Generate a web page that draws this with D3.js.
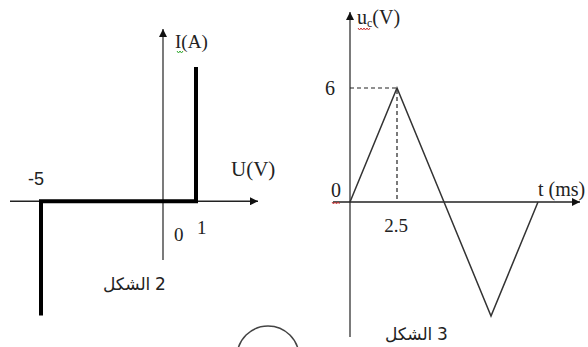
<!DOCTYPE html>
<html>
<head>
<meta charset="utf-8">
<script src="https://cdn.jsdelivr.net/npm/d3@7"></script>
<style>
  body { margin: 0; background: #fff; }
  svg { display: block; }
  .serif { font-family: "Liberation Serif", "DejaVu Serif", serif; fill: #222; }
  .sans { font-family: "Liberation Sans", "DejaVu Sans", sans-serif; fill: #222; }
  .ar { font-family: "DejaVu Sans", sans-serif; fill: #222; }
</style>
</head>
<body>
<svg id="chart" width="588" height="347"></svg>
<script>
// figure 2 : I(U) characteristic (schematic, not to scale)
var uValues = [-5, -5, 1, 1];
var iValues = [-4, 0, 0, 4.7];
var uTicks = [-5, 0, 1];

// figure 3 : u(t) triangle signal
var tValues = [0, 2.5, 5, 7.5, 10];
var vValues = [0, 6, 0, -6, 0];
var tTicks = [2.5];
var vTicks = [0, 6];

var svg = d3.select("#chart");

svg.append("defs").append("marker")
  .attr("id", "arrow")
  .attr("viewBox", "0 0 10 10")
  .attr("refX", 10).attr("refY", 5)
  .attr("markerUnits", "userSpaceOnUse")
  .attr("markerWidth", 10).attr("markerHeight", 8)
  .attr("orient", "auto")
  .append("path")
  .attr("d", "M0,0L10,5L0,10Z")
  .attr("fill", "#111");

// little spell-check squiggle under a label
function squiggle(g, x, y, n, color) {
  var d = "M" + x + "," + y;
  for (var k = 0; k < n; k++) d += "l1.5," + (k % 2 ? -2 : 2);
  g.append("path").attr("d", d)
    .attr("fill", "none").attr("stroke", color).attr("stroke-width", 1);
}

// arabic word on the left, figure number on the right
function caption(g, x, y, num) {
  var t = g.append("text").attr("class", "ar")
    .attr("y", y)
    .attr("text-anchor", "middle")
    .style("font-size", "17px")
    .text("الشكل");
  var w = t.node().getComputedTextLength();
  t.attr("x", x + w / 2);
  g.append("text").attr("class", "ar")
    .attr("x", x + w + 10).attr("y", y)
    .attr("text-anchor", "middle")
    .style("font-size", "17px")
    .text(num);
}

//--- left chart
var uScale = d3.scaleLinear().domain([-5, 0, 1]).range([41, 163, 196]);
var iScale = d3.scaleLinear().domain([-4, 4.7]).range([315.5, 67]);

var left = svg.append("g");

left.append("line")
  .attr("x1", 10).attr("x2", 258)
  .attr("y1", iScale(0)).attr("y2", iScale(0))
  .attr("stroke", "#222").attr("stroke-width", 1.3)
  .attr("marker-end", "url(#arrow)");

left.append("line")
  .attr("x1", uScale(0)).attr("x2", uScale(0))
  .attr("y1", 260).attr("y2", 29)
  .attr("stroke", "#222").attr("stroke-width", 1.2)
  .attr("marker-end", "url(#arrow)");

var lineUI = d3.line()
  .x(function(d, i) { return uScale(uValues[i]); })
  .y(function(d, i) { return iScale(iValues[i]); });

left.append("path")
  .attr("d", lineUI(uValues))
  .attr("fill", "none")
  .attr("stroke", "#000")
  .attr("stroke-width", 4)
  .attr("stroke-linejoin", "miter");

left.append("text").attr("class", "sans")
  .attr("x", uScale(-5) - 13).attr("y", 185)
  .style("font-size", "18px")
  .text(uTicks[0]);

left.append("text").attr("class", "serif")
  .attr("x", uScale(0) + 11).attr("y", 241)
  .style("font-size", "19px")
  .text(uTicks[1]);

left.append("text").attr("class", "serif")
  .attr("x", uScale(1) + 1).attr("y", 234)
  .style("font-size", "19px")
  .text(uTicks[2]);

left.append("text").attr("class", "serif")
  .attr("x", 175).attr("y", 48)
  .style("font-size", "19px")
  .text("I(A)");
squiggle(left, 177, 51, 4, "#3a3");

left.append("text").attr("class", "serif")
  .attr("x", 231).attr("y", 176)
  .style("font-size", "21px")
  .text("U(V)");

caption(left, 103, 290, "2");

//--- right chart
var tScale = d3.scaleLinear().domain([0, 2.5]).range([350, 397]);
var vScale = d3.scaleLinear().domain([0, 6]).range([202, 88]);

var right = svg.append("g");

right.append("line")
  .attr("x1", 333).attr("x2", 580)
  .attr("y1", vScale(0)).attr("y2", vScale(0))
  .attr("stroke", "#222").attr("stroke-width", 1.3)
  .attr("marker-end", "url(#arrow)");

right.append("line")
  .attr("x1", tScale(0)).attr("x2", tScale(0))
  .attr("y1", 337).attr("y2", 12)
  .attr("stroke", "#222").attr("stroke-width", 1.2)
  .attr("marker-end", "url(#arrow)");

// dashed guides to the peak
right.append("path")
  .attr("d", "M" + tScale(0) + "," + vScale(6) + "H" + tScale(2.5) + "V" + vScale(0))
  .attr("fill", "none")
  .attr("stroke", "#222").attr("stroke-width", 1.2)
  .attr("stroke-dasharray", "4,3");

var lineTV = d3.line()
  .x(function(d, i) { return tScale(tValues[i]); })
  .y(function(d, i) { return vScale(vValues[i]); });

right.append("path")
  .attr("d", lineTV(tValues))
  .attr("fill", "none")
  .attr("stroke", "#333")
  .attr("stroke-width", 1.5);

right.selectAll(".vtick").data(vTicks).enter()
  .append("text").attr("class", "serif vtick")
  .attr("x", function(d) { return d == 0 ? tScale(0) - 9 : tScale(0) - 15; })
  .attr("y", function(d) { return d == 0 ? vScale(d) - 5 : vScale(d) + 7; })
  .attr("text-anchor", "end")
  .style("font-size", "20px")
  .text(function(d) { return d; });
squiggle(right, 332, 202, 5, "#c33");

right.selectAll(".ttick").data(tTicks).enter()
  .append("text").attr("class", "serif ttick")
  .attr("x", function(d) { return tScale(d) - 1; })
  .attr("y", 232)
  .attr("text-anchor", "middle")
  .style("font-size", "19px")
  .text(function(d) { return d; });

var uLab = right.append("text").attr("class", "serif")
  .attr("x", 357).attr("y", 24)
  .style("font-size", "20px");
uLab.append("tspan").text("u");
uLab.append("tspan").attr("dy", 3).style("font-size", "12px").text("c");
uLab.append("tspan").attr("dy", -3).text("(V)");
squiggle(right, 358, 28, 8, "#c33");

right.append("text").attr("class", "serif")
  .attr("x", 538).attr("y", 196)
  .style("font-size", "20px")
  .text("t (ms)");

caption(right, 385, 340, "3");

// circle partly cut by the bottom edge
svg.append("circle")
  .attr("cx", 268).attr("cy", 357).attr("r", 31)
  .attr("fill", "none")
  .attr("stroke", "#444").attr("stroke-width", 1.5);
</script>
</body>
</html>
